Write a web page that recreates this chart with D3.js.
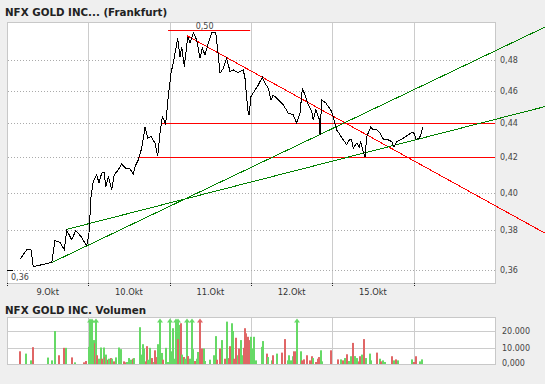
<!DOCTYPE html>
<html>
<head>
<meta charset="utf-8">
<script src="https://cdn.jsdelivr.net/npm/d3@7"></script>
<style>
  body { margin: 0; background: #efefef; }
  svg { display: block; font-family: "DejaVu Sans", Verdana, sans-serif; }
</style>
</head>
<body>
<svg width="545" height="384"></svg>
<script>
// trading days on the x axis (last day has no label)
const dayLabels = ["9.Okt", "10.Okt", "11.Okt", "12.Okt", "15.Okt"];
const dayCount = 6;
const priceTicks = [0.36, 0.38, 0.40, 0.42, 0.44, 0.46, 0.48];
const volTicks = [0, 10000, 20000];
const volTickLabels = ["0,000", "10.000", "20.000"];

// price: [time in trading days, price]
const prices = [
  [0.160,0.3652],[0.242,0.3700],[0.295,0.3700],[0.323,0.3615],[0.365,0.3619],[0.550,0.3636],
  [0.590,0.3747],[0.652,0.3737],[0.705,0.3700],[0.734,0.3801],[0.796,0.3751],[0.845,0.3798],
  [0.910,0.3768],[0.980,0.3720],[1.008,0.3785],[1.033,0.3980],[1.061,0.4063],[1.103,0.4101],
  [1.131,0.4054],[1.164,0.4110],[1.196,0.4114],[1.214,0.4035],[1.246,0.4091],[1.287,0.4016],
  [1.319,0.4101],[1.368,0.4129],[1.410,0.4162],[1.459,0.4138],[1.512,0.4133],[1.553,0.4106],
  [1.574,0.4147],[1.614,0.4185],[1.656,0.4253],[1.697,0.4377],[1.730,0.4312],[1.771,0.4322],
  [1.820,0.4283],[1.853,0.4208],[1.881,0.4342],[1.910,0.4441],[1.951,0.4397],[1.983,0.4565],
  [2.016,0.4714],[2.045,0.4783],[2.099,0.4946],[2.127,0.4822],[2.148,0.4889],[2.180,0.4757],
  [2.222,0.4956],[2.250,0.4912],[2.291,0.4983],[2.332,0.4934],[2.373,0.4811],[2.401,0.4879],
  [2.434,0.4834],[2.475,0.4912],[2.517,0.4983],[2.566,0.4983],[2.591,0.4867],[2.619,0.4714],
  [2.660,0.4746],[2.701,0.4811],[2.742,0.4725],[2.783,0.4735],[2.844,0.4718],[2.905,0.4735],
  [2.926,0.4682],[2.960,0.4483],[2.976,0.4452],[3.000,0.4565],[3.049,0.4606],[3.090,0.4639],
  [3.139,0.4688],[3.172,0.4650],[3.213,0.4617],[3.246,0.4544],[3.274,0.4575],[3.336,0.4544],
  [3.397,0.4514],[3.459,0.4462],[3.520,0.4452],[3.562,0.4401],[3.603,0.4462],[3.631,0.4617],
  [3.664,0.4575],[3.705,0.4514],[3.746,0.4472],[3.766,0.4421],[3.796,0.4483],[3.836,0.4431],
  [3.849,0.4332],[3.869,0.4544],[3.922,0.4524],[3.992,0.4472],[4.021,0.4421],[4.054,0.4361],
  [4.094,0.4332],[4.135,0.4302],[4.177,0.4273],[4.209,0.4302],[4.238,0.4302],[4.258,0.4253],
  [4.300,0.4283],[4.332,0.4259],[4.349,0.4292],[4.374,0.4243],[4.402,0.4204],[4.423,0.4322],
  [4.472,0.4377],[4.504,0.4361],[4.546,0.4361],[4.586,0.4342],[4.627,0.4306],[4.669,0.4306],
  [4.730,0.4292],[4.758,0.4259],[4.792,0.4292],[4.873,0.4312],[4.934,0.4332],[4.976,0.4345],
  [5.004,0.4342],[5.029,0.4306],[5.070,0.4312],[5.087,0.4332],[5.112,0.4381]
];

// horizontal support / resistance lines: [from, to, price]
const levelLines = [[1.98, 2.99, 0.50], [1.893, 6, 0.44], [1.607, 6, 0.42]];
// trend lines: [t0, p0, t1, p1, colour]
const trendLines = [
  [2.213, 0.4963, 6.615, 0.3785, "#ff0000"],
  [0.553, 0.3636, 6.615, 0.5022, "#008000"],
  [0.734, 0.3805, 6.615, 0.4503, "#008000"]
];
const minMark = { t: 0, price: 0.36 };
const maxMark = { t: 2.43, price: 0.50 };

// volume: [time, volume, up(1)/down(0)]; volumes over the top get an arrow
const volumes = [
  [0.160,7700,0],[0.234,6300,1],[0.295,2200,1],[0.316,10200,0],[0.508,3900,1],[0.550,2200,1],
  [0.594,20000,1],[0.643,5300,0],[0.705,9800,0],[0.729,9800,1],[0.795,4000,0],[0.840,1000,1],
  [0.950,1000,0],[0.975,1800,0],[1.008,10400,1],[1.020,30000,1],[1.033,20600,1],[1.049,30000,1],
  [1.066,14500,1],[1.082,12600,0],[1.098,30000,1],[1.110,5300,0],[1.131,3200,1],[1.152,10000,1],
  [1.172,3200,0],[1.189,10000,1],[1.205,4200,0],[1.221,5700,1],[1.238,2600,0],[1.258,3200,1],
  [1.279,3600,0],[1.295,3200,1],[1.319,1600,0],[1.344,4000,1],[1.377,10000,1],[1.402,9000,1],
  [1.435,1600,0],[1.451,1000,0],[1.475,1200,1],[1.500,3600,1],[1.525,2600,1],[1.545,3200,0],
  [1.565,3600,1],[1.632,1200,1],[1.639,22300,1],[1.656,5700,1],[1.672,12000,1],[1.688,9400,1],
  [1.705,1600,0],[1.721,10800,0],[1.737,2600,1],[1.762,9800,1],[1.779,3600,0],[1.804,1200,1],
  [1.816,8300,0],[1.844,4200,0],[1.860,12000,1],[1.881,30000,1],[1.902,6700,1],[1.922,2600,0],
  [1.959,9800,1],[1.983,1200,1],[2.000,30000,1],[2.016,7700,1],[2.041,21700,1],[2.066,3200,1],
  [2.082,30000,1],[2.099,30000,1],[2.106,15100,0],[2.123,23700,1],[2.139,24700,0],[2.155,5700,1],
  [2.172,4200,0],[2.189,3200,1],[2.209,30000,1],[2.229,4800,0],[2.246,3200,1],[2.271,30000,1],
  [2.291,9000,1],[2.311,1800,0],[2.332,3200,1],[2.345,7300,1],[2.369,8300,0],[2.377,30000,0],
  [2.394,9400,0],[2.418,9400,1],[2.434,1800,1],[2.492,2600,1],[2.541,5300,1],[2.573,16900,1],
  [2.586,2600,0],[2.619,9400,0],[2.643,14500,1],[2.680,3200,0],[2.701,25700,1],[2.714,3600,1],
  [2.730,3200,0],[2.746,10800,0],[2.763,24700,1],[2.775,20000,1],[2.787,3200,0],[2.816,15900,0],
  [2.836,5300,1],[2.856,9400,0],[2.877,14500,1],[2.893,5300,1],[2.910,9800,0],[2.926,21700,0],
  [2.942,18600,0],[2.959,14500,1],[2.967,16500,0],[2.984,14500,0],[3.000,16500,1],[3.016,9400,1],
  [3.033,16500,1],[3.061,2200,1],[3.131,10400,1],[3.151,13900,1],[3.193,6300,0],[3.213,4200,1],
  [3.254,2200,1],[3.266,5300,0],[3.323,6300,1],[3.381,6900,0],[3.422,15100,0],[3.459,2200,1],
  [3.471,5300,1],[3.488,2200,1],[3.513,4700,1],[3.529,7700,0],[3.553,7700,0],[3.569,30000,1],
  [3.611,7700,1],[3.627,2200,0],[3.652,2800,0],[3.692,5300,0],[3.725,2200,0],[3.754,4700,0],
  [3.766,3600,1],[3.799,1200,0],[3.828,3200,0],[3.840,4200,0],[3.864,8300,1],[3.877,1600,1],
  [3.987,8300,0],[4.073,2800,0],[4.110,2800,1],[4.135,2200,0],[4.160,3600,1],[4.184,5900,0],
  [4.209,1800,1],[4.226,4700,1],[4.258,12800,0],[4.282,4800,1],[4.307,3600,1],[4.324,1600,0],
  [4.344,4700,0],[4.361,5700,1],[4.393,15100,0],[4.410,3600,1],[4.463,6300,1],[4.479,2200,1],
  [4.549,6900,0],[4.586,3200,1],[4.602,1600,0],[4.627,2200,1],[4.651,1200,1],[4.737,4700,0],
  [4.762,2200,1],[4.787,2800,0],[4.811,2200,1],[4.983,2800,1],[5.008,1200,0],[5.025,4700,0],
  [5.082,1600,1],[5.106,2800,1]
];

const svg = d3.select("svg");
const de = d3.formatLocale({ decimal: ",", thousands: ".", grouping: [3], currency: ["", " €"] });
const fmtPrice = de.format(".2f");

const x = d3.scaleLinear().domain([0, dayCount]).range([7, 495]);
const y = d3.scaleLog().domain([0.3535, 0.5057]).range([283, 22]);
const yVol = d3.scaleLinear().domain([0, 28200]).range([364, 317.5]);

// titles
svg.append("text").attr("x", 5).attr("y", 16)
  .attr("font-size", 10.3).attr("font-weight", "bold").attr("fill", "#222")
  .text("NFX GOLD INC... (Frankfurt)");
svg.append("text").attr("x", 5).attr("y", 314)
  .attr("font-size", 10.3).attr("font-weight", "bold").attr("fill", "#222")
  .text("NFX GOLD INC. Volumen");

// ---- price panel ----
const pricePanel = svg.append("g");
pricePanel.append("rect").attr("x", 7.5).attr("y", 22.5).attr("width", 488).attr("height", 261)
  .attr("fill", "#fff").attr("stroke", "#c8c8c8");

pricePanel.selectAll(".vgrid").data(d3.range(1, dayCount)).join("line")
  .attr("x1", d => Math.round(x(d)) + 0.5).attr("x2", d => Math.round(x(d)) + 0.5)
  .attr("y1", 23).attr("y2", 283).attr("stroke", "#cccccc");

pricePanel.selectAll(".hgrid").data(priceTicks).join("line")
  .attr("x1", 8).attr("x2", 495)
  .attr("y1", d => Math.round(y(d)) + 0.5).attr("y2", d => Math.round(y(d)) + 0.5)
  .attr("stroke", "#aaaaaa").attr("stroke-dasharray", "1,2");

pricePanel.selectAll(".ylab").data(priceTicks).join("text")
  .attr("x", 500).attr("y", d => y(d) + 3)
  .attr("font-size", 8).attr("fill", "#444").text(d => fmtPrice(d));

pricePanel.selectAll(".xtick").data(d3.range(0, dayCount)).join("line")
  .attr("x1", d => Math.round(x(d)) + 0.5).attr("x2", d => Math.round(x(d)) + 0.5)
  .attr("y1", 283).attr("y2", 287).attr("stroke", "#222").attr("stroke-dasharray", "1,1");

pricePanel.selectAll(".xlab").data(dayLabels).join("text")
  .attr("x", (d, i) => x(i + 0.5)).attr("y", 295).attr("text-anchor", "middle")
  .attr("font-size", 8.3).attr("fill", "#333").text(d => d);

// level lines
pricePanel.selectAll(".level").data(levelLines).join("line")
  .attr("x1", d => x(d[0])).attr("x2", d => x(d[1]))
  .attr("y1", d => Math.round(y(d[2])) + 0.5).attr("y2", d => Math.round(y(d[2])) + 0.5)
  .attr("stroke", "#ff0000");

// trend lines (run out past the plot to the page edge)
pricePanel.selectAll(".trend").data(trendLines).join("line")
  .attr("x1", d => x(d[0])).attr("y1", d => y(d[1]))
  .attr("x2", d => x(d[2])).attr("y2", d => y(d[3]))
  .attr("stroke", d => d[4]).attr("stroke-width", 1).attr("shape-rendering", "crispEdges");

// price line
const line = d3.line().x(d => x(d[0])).y(d => y(d[1]));
pricePanel.append("path").datum(prices).attr("d", line)
  .attr("fill", "none").attr("stroke", "#000").attr("stroke-width", 1)
  .attr("shape-rendering", "crispEdges");

// min / max markers
pricePanel.append("line")
  .attr("x1", x(minMark.t)).attr("x2", x(minMark.t) + 6)
  .attr("y1", Math.round(y(minMark.price)) + 0.5).attr("y2", Math.round(y(minMark.price)) + 0.5)
  .attr("stroke", "#000");
pricePanel.append("text").attr("x", x(minMark.t) + 4).attr("y", y(minMark.price) + 10)
  .attr("font-size", 8).attr("fill", "#444").text(fmtPrice(minMark.price));
pricePanel.append("text").attr("x", x(maxMark.t)).attr("y", y(maxMark.price) - 1.5)
  .attr("text-anchor", "middle").attr("font-size", 8).attr("fill", "#444")
  .text(fmtPrice(maxMark.price));

// ---- volume panel ----
const volPanel = svg.append("g");
volPanel.append("rect").attr("x", 7.5).attr("y", 317.5).attr("width", 488).attr("height", 47)
  .attr("fill", "#fff").attr("stroke", "#c8c8c8");

volPanel.selectAll(".vgrid").data(d3.range(1, dayCount)).join("line")
  .attr("x1", d => Math.round(x(d)) + 0.5).attr("x2", d => Math.round(x(d)) + 0.5)
  .attr("y1", 318).attr("y2", 364).attr("stroke", "#cccccc");
volPanel.selectAll(".hgrid").data(volTicks.slice(1)).join("line")
  .attr("x1", 8).attr("x2", 495)
  .attr("y1", d => Math.round(yVol(d)) + 0.5).attr("y2", d => Math.round(yVol(d)) + 0.5)
  .attr("stroke", "#cccccc");
volPanel.selectAll(".ylab").data(volTicks).join("text")
  .attr("x", 502).attr("y", (d, i) => yVol(d) + (i === 0 ? 1.5 : 3))
  .attr("font-size", 8).attr("fill", "#444").text((d, i) => volTickLabels[i]);

const vMax = yVol.domain()[1];
volPanel.selectAll(".bar").data(volumes).join("rect")
  .attr("x", d => Math.round(x(d[0])) - 1)
  .attr("width", 2)
  .attr("y", d => d[1] > vMax ? 320 : yVol(d[1]))
  .attr("height", d => 364 - (d[1] > vMax ? 320 : yVol(d[1])))
  .attr("fill", d => d[2] ? "#66d966" : "#e06666");

volPanel.selectAll(".arrow").data(volumes.filter(d => d[1] > vMax)).join("path")
  .attr("d", d => {
    const cx = Math.round(x(d[0]));
    return `M${cx - 3},322.5L${cx + 3},322.5L${cx},318.5Z`;
  })
  .attr("fill", d => d[2] ? "#66d966" : "#e06666");
</script>
</body>
</html>
